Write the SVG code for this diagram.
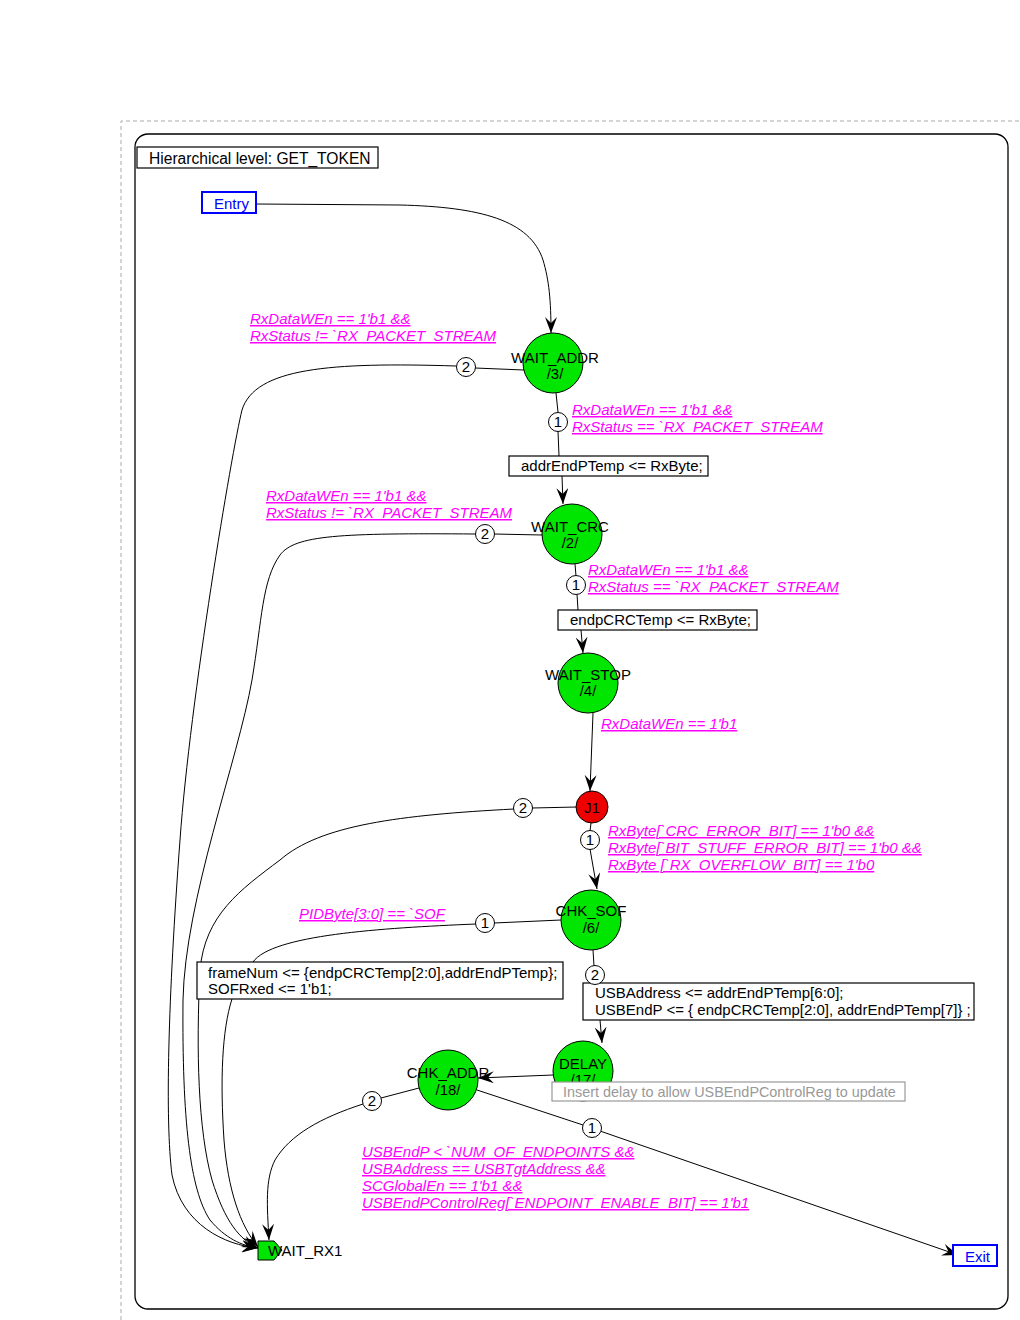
<svg xmlns="http://www.w3.org/2000/svg" width="1020" height="1320" viewBox="0 0 1020 1320">
  <style>
    text { font-family: "Liberation Sans", Arial, sans-serif; font-size: 15px; fill: #000; }
    .title { font-size: 15.6px; }
    .cond { fill: #ff00ff; font-style: italic; text-decoration: underline; }
    .blue { fill: #0000ff; }
    .note { fill: #999999; font-size: 14.4px; }
    .state { fill: #00e600; stroke: #000; stroke-width: 1; }
    .junction { fill: #ee0000; stroke: #000; stroke-width: 1; }
    .box { fill: #fff; stroke: #000; stroke-width: 1.2; }
    .port { fill: #fff; stroke: #0000ff; stroke-width: 2; }
    .notebox { fill: #fff; stroke: #999999; stroke-width: 1.2; }
    .wire { fill: none; stroke: #000; stroke-width: 1; }
    .arrow { fill: none; stroke: #000; stroke-width: 1; marker-end: url(#head); }
    .badge { fill: #fff; stroke: #000; stroke-width: 1; }
    .mid { text-anchor: middle; }
  </style>
  <defs>
    <marker id="head" markerUnits="userSpaceOnUse" markerWidth="18" markerHeight="14" refX="16" refY="6" orient="auto">
      <path d="M0,0 L16,6 L0,12 L6,6 z" fill="#000"/>
    </marker>
  </defs>

  <!-- page border and hierarchy frame -->
  <path d="M121,1320 L121,121 L1020,121" fill="none" stroke="#aaaaaa" stroke-width="1" stroke-dasharray="4,3"/>
  <rect x="135" y="134" width="873" height="1175" rx="13" ry="13" fill="none" stroke="#000" stroke-width="1.3"/>
  <g id="title">
    <rect x="137" y="147" width="241" height="21" class="box"/>
    <text x="149" y="164" class="title">Hierarchical level: GET_TOKEN</text>
  </g>

  <!-- transitions -->
  <g id="connectors">
    <path class="arrow" d="M256,204 L400,205 C480,207 530,220 543,260 C549,280 551,300 551,333"/>

    <!-- WAIT_ADDR -->
    <path class="wire" d="M524,370 L475,368"/>
    <path class="arrow" d="M456,366 C330,362 255,368 242,410 C232,450 190,700 180,840 C168,1000 165,1120 172,1175 C182,1225 225,1245 258,1248"/>
    <path class="wire" d="M556,393 L558,412"/>
    <path class="wire" d="M558,431 L559,456"/>
    <path class="arrow" d="M562,476 L563,504"/>

    <!-- WAIT_CRC -->
    <path class="wire" d="M542,535 L494,534"/>
    <path class="arrow" d="M476,534 C340,533 295,535 280,555 C262,580 262,620 252,680 C238,760 185,900 183,1000 C182,1120 190,1190 210,1220 C225,1238 242,1246 258,1248"/>
    <path class="wire" d="M575,564 L576,576"/>
    <path class="wire" d="M577,594 L578,610"/>
    <path class="arrow" d="M581,630 L583,653"/>

    <!-- WAIT_STOP -> J1 -->
    <path class="arrow" d="M593,713 L590,791"/>

    <!-- J1 -->
    <path class="wire" d="M577,807 L532,808"/>
    <path class="arrow" d="M514,809 C400,815 320,825 280,860 C240,890 205,915 200,970 C196,1050 198,1130 212,1180 C225,1222 240,1240 258,1248"/>
    <path class="wire" d="M591,823 L590,831"/>
    <path class="arrow" d="M590,849 L597,889"/>

    <!-- CHK_SOF -->
    <path class="wire" d="M561,920 L494,923"/>
    <path class="wire" d="M476,924 C380,928 272,935 253,962"/>
    <path class="arrow" d="M232,999 C222,1030 220,1080 224,1140 C228,1190 240,1225 258,1247"/>
    <path class="wire" d="M593,950 L594,966"/>
    <path class="arrow" d="M600,1020 L602,1043"/>

    <!-- DELAY -> CHK_ADDR -->
    <path class="arrow" d="M553,1075 L478,1078"/>

    <!-- CHK_ADDR -->
    <path class="wire" d="M419,1088 L381,1098"/>
    <path class="arrow" d="M363,1104 C320,1118 290,1135 275,1160 C265,1180 267,1205 269,1240"/>
    <path class="wire" d="M477,1090 L583,1125"/>
    <path class="arrow" d="M600,1131 L958,1255"/>
  </g>

  <!-- transition actions -->
  <g id="actions">
    <rect x="509" y="456" width="199" height="20" class="box"/>
    <text x="521" y="471">addrEndPTemp &lt;= RxByte;</text>
    <rect x="558" y="610" width="199" height="20" class="box"/>
    <text x="570" y="625">endpCRCTemp &lt;= RxByte;</text>
    <rect x="197" y="962" width="366" height="37" class="box"/>
    <text x="208" y="978">frameNum &lt;= {endpCRCTemp[2:0],addrEndPTemp};</text>
    <text x="208" y="994">SOFRxed &lt;= 1'b1;</text>
    <rect x="583" y="983" width="391" height="37" class="box"/>
    <text x="595" y="998">USBAddress &lt;= addrEndPTemp[6:0];</text>
    <text x="595" y="1015">USBEndP &lt;= { endpCRCTemp[2:0], addrEndPTemp[7]} ;</text>
  </g>

  <!-- priority badges -->
  <g id="badges">
    <circle cx="466" cy="367" r="9.5" class="badge"/><text x="466" y="372" class="mid">2</text>
    <circle cx="558" cy="422" r="9.5" class="badge"/><text x="558" y="427" class="mid">1</text>
    <circle cx="485" cy="534" r="9.5" class="badge"/><text x="485" y="539" class="mid">2</text>
    <circle cx="576" cy="585" r="9.5" class="badge"/><text x="576" y="590" class="mid">1</text>
    <circle cx="523" cy="808" r="9.5" class="badge"/><text x="523" y="813" class="mid">2</text>
    <circle cx="590" cy="840" r="9.5" class="badge"/><text x="590" y="845" class="mid">1</text>
    <circle cx="485" cy="923" r="9.5" class="badge"/><text x="485" y="928" class="mid">1</text>
    <circle cx="595" cy="975" r="9.5" class="badge"/><text x="595" y="980" class="mid">2</text>
    <circle cx="372" cy="1101" r="9.5" class="badge"/><text x="372" y="1106" class="mid">2</text>
    <circle cx="592" cy="1128" r="9.5" class="badge"/><text x="592" y="1133" class="mid">1</text>
  </g>

  <!-- transition conditions -->
  <g id="conditions">
    <text x="250" y="324" class="cond">RxDataWEn == 1'b1 &amp;&amp;</text>
    <text x="250" y="341" class="cond">RxStatus != `RX_PACKET_STREAM</text>
    <text x="572" y="415" class="cond">RxDataWEn == 1'b1 &amp;&amp;</text>
    <text x="572" y="432" class="cond">RxStatus == `RX_PACKET_STREAM</text>
    <text x="266" y="501" class="cond">RxDataWEn == 1'b1 &amp;&amp;</text>
    <text x="266" y="518" class="cond">RxStatus != `RX_PACKET_STREAM</text>
    <text x="588" y="575" class="cond">RxDataWEn == 1'b1 &amp;&amp;</text>
    <text x="588" y="592" class="cond">RxStatus == `RX_PACKET_STREAM</text>
    <text x="601" y="729" class="cond">RxDataWEn == 1'b1</text>
    <text x="608" y="836" class="cond">RxByte[`CRC_ERROR_BIT] == 1'b0 &amp;&amp;</text>
    <text x="608" y="853" class="cond">RxByte[`BIT_STUFF_ERROR_BIT] == 1'b0 &amp;&amp;</text>
    <text x="608" y="870" class="cond">RxByte [`RX_OVERFLOW_BIT] == 1'b0</text>
    <text x="299" y="919" class="cond">PIDByte[3:0] == `SOF</text>
    <text x="362" y="1157" class="cond">USBEndP &lt; `NUM_OF_ENDPOINTS  &amp;&amp;</text>
    <text x="362" y="1174" class="cond">USBAddress == USBTgtAddress &amp;&amp;</text>
    <text x="362" y="1191" class="cond">SCGlobalEn == 1'b1 &amp;&amp;</text>
    <text x="362" y="1208" class="cond">USBEndPControlReg[`ENDPOINT_ENABLE_BIT] == 1'b1</text>
  </g>

  <!-- states -->
  <g id="Entry">
    <rect x="202" y="192" width="54" height="21" class="port"/>
    <text x="214" y="209" class="blue">Entry</text>
  </g>
  <g id="WAIT_ADDR">
    <circle cx="553" cy="363" r="30" class="state"/>
    <text x="555" y="363" class="mid">WAIT_ADDR</text>
    <text x="555" y="379" class="mid">/3/</text>
  </g>
  <g id="WAIT_CRC">
    <circle cx="572" cy="534" r="30" class="state"/>
    <text x="570" y="532" class="mid">WAIT_CRC</text>
    <text x="570" y="548" class="mid">/2/</text>
  </g>
  <g id="WAIT_STOP">
    <circle cx="588" cy="683" r="30" class="state"/>
    <text x="588" y="680" class="mid">WAIT_STOP</text>
    <text x="588" y="696" class="mid">/4/</text>
  </g>
  <g id="J1">
    <circle cx="592" cy="807" r="16" class="junction"/>
    <text x="592" y="813" class="mid">J1</text>
  </g>
  <g id="CHK_SOF">
    <circle cx="591" cy="920" r="30" class="state"/>
    <text x="591" y="916" class="mid">CHK_SOF</text>
    <text x="591" y="933" class="mid">/6/</text>
  </g>
  <g id="DELAY">
    <circle cx="583" cy="1071" r="30" class="state"/>
    <text x="583" y="1069" class="mid">DELAY</text>
    <text x="583" y="1085" class="mid">/17/</text>
  </g>
  <g id="CHK_ADDR">
    <circle cx="448" cy="1080" r="30" class="state"/>
    <text x="448" y="1078" class="mid">CHK_ADDR</text>
    <text x="448" y="1095" class="mid">/18/</text>
  </g>
  <g id="WAIT_RX1">
    <polygon points="258,1241 274,1241 282,1250 274,1260 258,1260" class="state"/>
    <text x="268" y="1256">WAIT_RX1</text>
  </g>
  <g id="Exit">
    <rect x="953" y="1245" width="44" height="21" class="port"/>
    <text x="965" y="1262" class="blue">Exit</text>
  </g>

  <!-- annotation drawn over the DELAY state -->
  <g id="delay-note">
    <rect x="552" y="1082" width="353" height="19" class="notebox"/>
    <text x="563" y="1097" class="note">Insert delay to allow USBEndPControlReg to update</text>
  </g>
</svg>
